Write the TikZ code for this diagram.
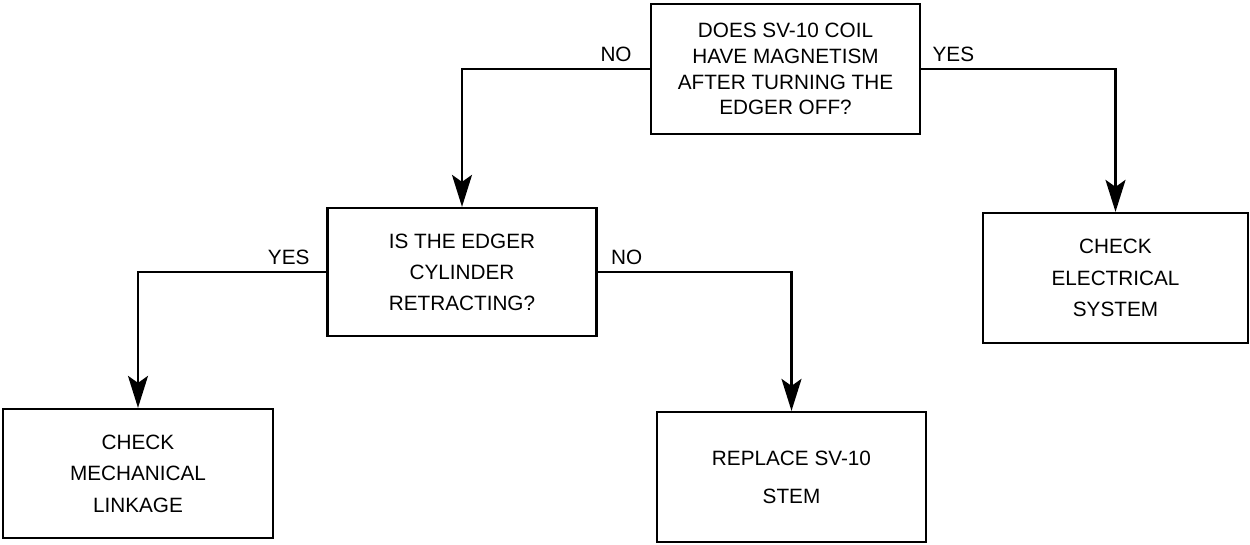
\documentclass[tikz,border=0pt]{standalone}
\usepackage{fontspec}
\setmainfont{Liberation Sans}
\usetikzlibrary{positioning,arrows.meta}

\begin{document}
\begin{tikzpicture}[
    x=0.02cm, y=-0.02cm,
    box/.style={draw, line width=1.3pt, align=center, minimum width=5.38cm, minimum height=2.6cm, font=\fontsize{11.8}{18}\selectfont},
    lbl/.style={above, font=\fontsize{11.8}{14}\selectfont},
    arr/.style={-{Stealth[length=0.64cm, width=0.4cm, inset=0.14cm]}, line width=1.3pt}
]
\useasboundingbox (0,0) rectangle (1250,544);

\node[box, font=\fontsize{11.8}{14.7}\selectfont] (coil) at (785.5,69) {DOES SV-10 COIL\\HAVE MAGNETISM\\AFTER TURNING THE\\EDGER OFF?};
\node[box, minimum height=2.56cm, font=\fontsize{11.8}{17.6}\selectfont] (cyl) at (462,272) {IS THE EDGER\\CYLINDER\\RETRACTING?};
\node[box, minimum width=5.3cm] (elec) at (1115.5,278) {CHECK\\ELECTRICAL\\SYSTEM};
\node[box, minimum width=5.4cm, minimum height=2.58cm] (mech) at (138,473.5) {CHECK\\MECHANICAL\\LINKAGE};
\node[box, font=\fontsize{11.8}{21.5}\selectfont] (stem) at (791.5,477) {REPLACE SV-10\\STEM};

\draw[arr] (coil.west) -| node[lbl, pos=0.09] {NO} (cyl.north);
\draw[arr] (coil.east) -| node[lbl, pos=0.083] {YES} (elec.north);
\draw[arr] (cyl.west) -| node[lbl, pos=0.1] {YES} (mech.north);
\draw[arr] (cyl.east) -| node[lbl, pos=0.075] {NO} (stem.north);
\end{tikzpicture}
\end{document}
